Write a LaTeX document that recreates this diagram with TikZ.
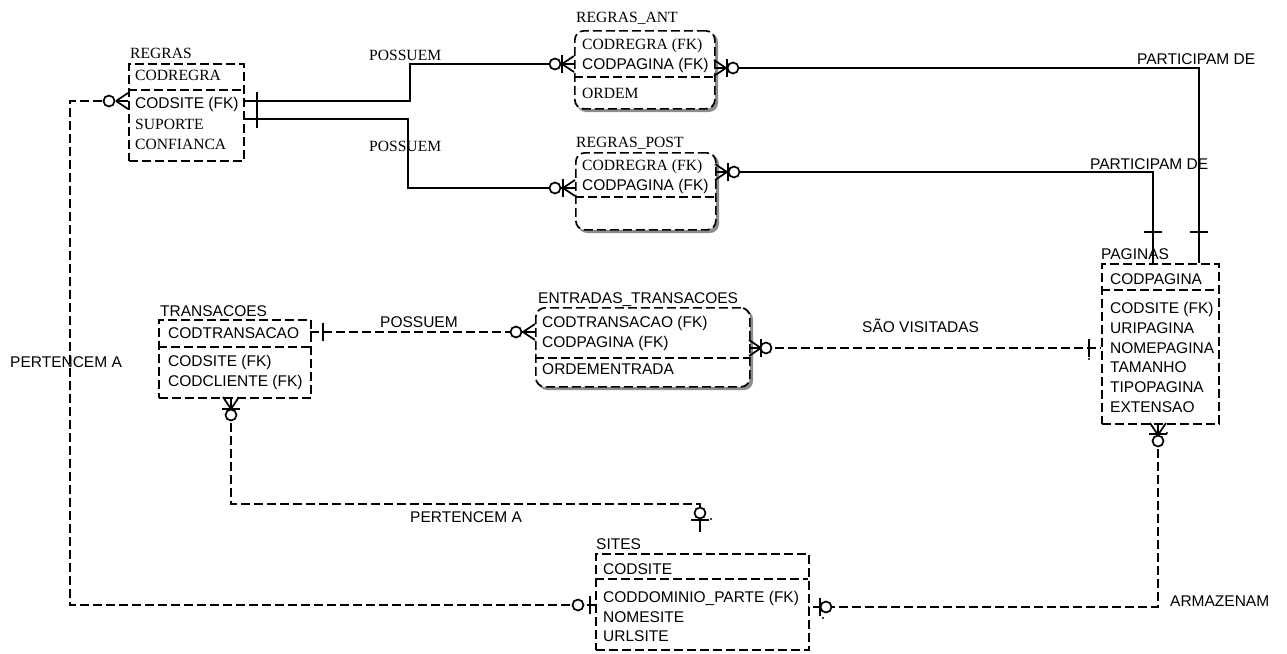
\documentclass[tikz,border=0pt]{standalone}
\usepackage{fontspec}
\setmainfont{Liberation Sans}
\newfontfamily\serfam{Liberation Serif}
\begin{document}
\begin{tikzpicture}[x=1pt,y=-1pt,
  ent/.style={draw, fill=white, dash pattern=on 9pt off 4pt, line width=1.7pt, inner sep=0pt, anchor=north west},
  dent/.style={ent, rounded corners=9pt},
  divl/.style={dash pattern=on 9pt off 4pt, line width=1.7pt},
  shad/.style={fill=black!45, rounded corners=9pt},
  t/.style={inner sep=0pt, anchor=base west, font=\fontsize{15.5}{18}\selectfont},
  ts/.style={inner sep=0pt, anchor=base west, font=\serfam\fontsize{15.6}{18}\selectfont},
  rel/.style={line width=1.8pt},
  drel/.style={line width=1.8pt, dash pattern=on 9pt off 4pt},
  crow/.pic={\draw[solid, line width=1.7pt] (12,0) -- (0,-8) (12,0) -- (0,0) (12,0) -- (0,8);},
  bar/.pic={\draw[solid, line width=1.7pt] (0,-9) -- (0,9);},
  circ/.pic={\draw[solid, line width=1.7pt, fill=white] (0,0) circle (5.5pt);},
  dotm/.style={fill=black}
]
\path[use as bounding box] (0,0) rectangle (1287,653);

% ---------- shadows of dependent entities ----------
\path[shad] (577,33) rectangle (718,112);
\path[shad] (578,155) rectangle (719,233);
\path[shad] (538,310) rectangle (753,390);

% ---------- REGRAS ----------
\node[ts] (regrasT) at (130,58) {REGRAS};
\node[ent, minimum width=115pt, minimum height=97pt] (regras) at (128,63) {};
\draw[divl] (128,90) -- (243,90);
\node[ts] (r1) at (135,80.5) {CODREGRA};
\node[t]  (r2) at (135,108.5) {CODSITE (FK)};
\node[ts] (r3) at (135,129.5) {SUPORTE};
\node[ts] (r4) at (135,149.5) {CONFIANCA};

% ---------- REGRAS_ANT ----------
\node[ts] (antT) at (576,23) {REGRAS\_ANT};
\node[dent, minimum width=140pt, minimum height=78pt] (ant) at (574,30) {};
\draw[divl] (574,77) -- (714,77);
\node[ts] (a1) at (582,49) {CODREGRA (FK)};
\node[t]  (a2) at (582,69) {CODPAGINA (FK)};
\node[ts] (a3) at (582,98) {ORDEM};

% ---------- REGRAS_POST ----------
\node[ts] (postT) at (576,147) {REGRAS\_POST};
\node[dent, minimum width=140pt, minimum height=77pt] (post) at (575,152) {};
\draw[divl] (575,197) -- (715,197);
\node[ts] (p1) at (582,170.5) {CODREGRA (FK)};
\node[t]  (p2) at (582,190) {CODPAGINA (FK)};

% ---------- PAGINAS ----------
\node[t] (pagT) at (1101,259.5) {PAGINAS};
\node[ent, minimum width=117pt, minimum height=160pt] (pag) at (1101,263) {};
\draw[divl] (1101,290) -- (1218,290);
\node[t] (g1) at (1110,284.5) {CODPAGINA};
\node[t] (g2) at (1110,313.5) {CODSITE (FK)};
\node[t] (g3) at (1110,333.5) {URIPAGINA};
\node[t] (g4) at (1110,353.5) {NOMEPAGINA};
\node[t] (g5) at (1110,372.5) {TAMANHO};
\node[t] (g6) at (1110,392.5) {TIPOPAGINA};
\node[t] (g7) at (1110,412.5) {EXTENSAO};

% ---------- TRANSACOES ----------
\node[t] (trT) at (160,316.5) {TRANSACOES};
\node[ent, minimum width=152pt, minimum height=78pt] (tr) at (158,319) {};
\draw[divl] (158,347) -- (310,347);
\node[t] (t1) at (168,338.5) {CODTRANSACAO};
\node[t] (t2) at (168,366.5) {CODSITE (FK)};
\node[t] (t3) at (168,386.5) {CODCLIENTE (FK)};

% ---------- ENTRADAS_TRANSACOES ----------
\node[t] (enT) at (538,303.5) {ENTRADAS\_TRANSACOES};
\node[dent, minimum width=214pt, minimum height=79pt] (en) at (535,307) {};
\draw[divl] (535,358) -- (749,358);
\node[t] (e1) at (542,327.5) {CODTRANSACAO (FK)};
\node[t] (e2) at (542,347.5) {CODPAGINA (FK)};
\node[t] (e3) at (542,374.5) {ORDEMENTRADA};

% ---------- SITES ----------
\node[t] (siT) at (596,549.5) {SITES};
\node[ent, minimum width=213pt, minimum height=96pt] (si) at (595,553) {};
\draw[divl] (595,579) -- (808,579);
\node[t] (s1) at (603,574.5) {CODSITE};
\node[t] (s2) at (603,602.5) {CODDOMINIO\_PARTE (FK)};
\node[t] (s3) at (603,622.5) {NOMESITE};
\node[t] (s4) at (603,641.5) {URLSITE};

% ---------- connector end points ----------
\coordinate (c1a) at (243,101);  \coordinate (c1b) at (574,64);
\coordinate (c2a) at (243,119);  \coordinate (c2b) at (575,188);
\coordinate (c3a) at (714,68);   \coordinate (c3b) at (1199,263);
\coordinate (c4a) at (715,172);  \coordinate (c4b) at (1153,263);
\coordinate (c5a) at (310,332);  \coordinate (c5b) at (535,332);
\coordinate (c6a) at (749,348);  \coordinate (c6b) at (1101,348);
\coordinate (c7a) at (231,397);  \coordinate (c7b) at (700,532);
\coordinate (c8a) at (128,101);  \coordinate (c8b) at (595,605);
\coordinate (c9a) at (1158,423); \coordinate (c9b) at (808,607);

% ---------- connectors ----------
\draw[rel] (c1a) -- (410,101) |- (c1b);
\draw[rel] (c2a) -- (408,119) |- (c2b);
\draw[rel] (c3a) -| (c3b);
\draw[rel] (c4a) -| (c4b);
\draw[drel] (c5a) -- (c5b);
\draw[drel] (c6a) -- (c6b);
\draw[drel] (c7a) -- (231,504) -| (c7b);
\draw[drel] (c8a) -- (70,101) |- (c8b);
\draw[drel] (c9a) |- (c9b);

% ---------- end symbols ----------
% 1
\pic at (257,101) {bar};
\pic[rotate=180] at (c1b) {crow};
\pic at (562,64) {bar};
\pic at (555,64) {circ};
% 2
\pic at (257,119) {bar};
\pic[rotate=180] at (c2b) {crow};
\pic at (563,188) {bar};
\pic at (555,188) {circ};
% 3
\pic at (c3a) {crow};
\pic at (727,68) {bar};
\pic at (733,68) {circ};
\pic[rotate=90] at (1199,232) {bar};
% 4
\pic at (c4a) {crow};
\pic at (728,172) {bar};
\pic at (734,172) {circ};
\pic[rotate=90] at (1153,232) {bar};
% 5
\pic at (323,332) {bar};
\pic[rotate=180] at (c5b) {crow};
\pic at (516,332) {circ};
% 6
\pic at (c6a) {crow};
\pic at (761,348) {bar};
\pic at (766,348) {circ};
\pic at (1089,348) {bar};
\fill[dotm] (1089,359) circle (1.2pt);
% 7
\pic[rotate=-90] at (c7a) {crow};
\pic[rotate=90] at (231,409) {bar};
\pic at (231,415) {circ};
\pic at (700,513) {circ};
\pic[rotate=90] at (700,520) {bar};
\draw[rel] (700,519) -- (c7b);
\fill[dotm] (711,519) circle (1.2pt);
% 8
\pic[rotate=180] at (c8a) {crow};
\pic at (109,101) {circ};
\pic at (590,605) {bar};
\pic at (578,605) {circ};
% 9
\pic[rotate=-90] at (c9a) {crow};
\pic[rotate=90] at (1158,434) {bar};
\pic at (1158,441) {circ};
\fill[dotm] (1167,433) circle (1.2pt);
\pic at (820,607) {bar};
\pic at (826,607) {circ};
\fill[dotm] (823,618) circle (1.2pt);

% ---------- relationship labels ----------
\node[ts] (l1) at (369,60) {POSSUEM};
\node[ts] (l2) at (369,151.5) {POSSUEM};
\node[t] (l3) at (1137,64.5) {PARTICIPAM DE};
\node[t] (l4) at (1090,169.5) {PARTICIPAM DE};
\node[t] (l5) at (380,327.5) {POSSUEM};
\node[t] (l6) at (862,332.5) {SÃO VISITADAS};
\node[t] (l7) at (10,367.5) {PERTENCEM A};
\node[t] (l8) at (410,522.5) {PERTENCEM A};
\node[t] (l9) at (1170,606.5) {ARMAZENAM};
\end{tikzpicture}
\end{document}
